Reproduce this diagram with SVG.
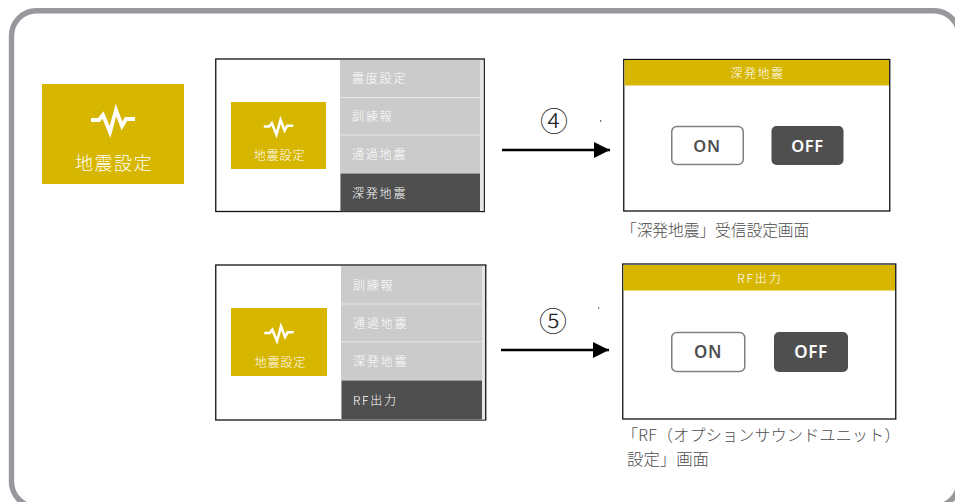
<svg xmlns="http://www.w3.org/2000/svg" width="955" height="502" viewBox="0 0 955 502">
<defs>
<marker id="arr" markerUnits="userSpaceOnUse" markerWidth="17" markerHeight="16" refX="16" refY="8" orient="auto"><path d="M0 0L16 8L0 16Z" fill="#000"/></marker>
<polyline id="wave" points="-22,0 -14,0 -10,-5 -3,12 3,-10 9,6 13,-1 22,-1" fill="none" stroke="#fff" stroke-width="3.800" stroke-miterlimit="12"/>
</defs>
<style>
text{font-family:"Noto Sans CJK JP","Noto Sans",sans-serif}
.w{fill:#fff;font-weight:300}
.c{text-anchor:middle}
.gold{fill:#d7b600}
.menu{fill:#cbcbcb}
.dark{fill:#4f4f4f}
.frame{fill:#fff;stroke:#111;stroke-width:1.300}
.strip{fill:#e6e6e6}
.m{font-size:12px;letter-spacing:1.800px}
.cap{fill:#4d4d4d;font-weight:300}
.on{fill:#fff;stroke:#807f7f;stroke-width:1.500}
.b{font-family:"Noto Sans",sans-serif;font-weight:600;letter-spacing:.6px;text-anchor:middle}
.num{font-size:28px;font-weight:300;fill:#222;text-anchor:middle}
</style>
<rect width="955" height="502" fill="#fff"/>
<rect x="11.500" y="10.800" width="947.500" height="496" rx="25" fill="#fff" stroke="#97979c" stroke-width="5.400"/>

<g id="icon-large">
<rect class="gold" x="42" y="84" width="142" height="100"/>
<use href="#wave" x="113" y="120"/>
<text class="w c" x="114" y="170" font-size="18" letter-spacing="1.500">地震設定</text>
</g>

<g id="menu-1">
<rect class="frame" x="215.750" y="59" width="268.500" height="152.500"/>
<rect class="strip" x="340" y="60" width="143.500" height="151"/>
<rect class="menu" x="340" y="60" width="140" height="37"/>
<rect class="menu" x="340" y="98" width="140" height="36.500"/>
<rect class="menu" x="340" y="135.500" width="140" height="37.500"/>
<rect class="dark" x="340.500" y="173.500" width="139.500" height="38"/>
<text class="w m" x="352" y="83">震度設定</text>
<text class="w m" x="352" y="121">訓練報</text>
<text class="w m" x="352" y="159">通過地震</text>
<text class="w m" x="352" y="198">深発地震</text>
<rect class="gold" x="231" y="102" width="95" height="67"/>
<use href="#wave" transform="translate(278.500 126.500) scale(.67)"/>
<text class="w c" x="279.500" y="160" font-size="12" letter-spacing=".9">地震設定</text>
</g>

<g id="screen-deep">
<rect class="frame" x="623.750" y="59.500" width="266" height="151.500"/>
<rect class="gold" x="624.500" y="60" width="264.500" height="25.500"/>
<text class="w c" x="757.500" y="78" font-size="12" letter-spacing="1.600">深発地震</text>
<rect class="on" x="671.750" y="126.500" width="71.500" height="38" rx="5"/>
<text class="b" x="707" y="151.500" font-size="16.500" fill="#4f4f4f">ON</text>
<rect class="dark" x="771.500" y="126" width="72" height="39" rx="5"/>
<text class="b" x="807.500" y="151.500" font-size="16.500" fill="#fff">OFF</text>
<text class="cap" x="621" y="236" font-size="15.700">「深発地震」受信設定画面</text>
</g>

<g id="menu-2">
<rect class="frame" x="215.750" y="265" width="270" height="155"/>
<rect class="strip" x="341" y="266" width="144" height="153.500"/>
<rect class="menu" x="341" y="266" width="141" height="37.500"/>
<rect class="menu" x="341" y="304.500" width="141" height="36.800"/>
<rect class="menu" x="341" y="342.300" width="141" height="37.700"/>
<rect class="dark" x="341.500" y="380.500" width="140.500" height="39"/>
<text class="w m" x="353" y="290">訓練報</text>
<text class="w m" x="353" y="328">通過地震</text>
<text class="w m" x="353" y="366">深発地震</text>
<text class="w m" x="353" y="405">RF出力</text>
<rect class="gold" x="231" y="308" width="96" height="68"/>
<use href="#wave" transform="translate(279 333) scale(.67)"/>
<text class="w c" x="280.500" y="367" font-size="12" letter-spacing=".9">地震設定</text>
</g>

<g id="screen-rf">
<rect class="frame" x="622.750" y="264" width="273" height="155"/>
<rect class="gold" x="623.500" y="265" width="271.500" height="25.500"/>
<text class="w c" x="760" y="283" font-size="12" letter-spacing="2">RF出力</text>
<rect class="on" x="671.750" y="332.500" width="73" height="39" rx="5"/>
<text class="b" x="708" y="357.500" font-size="17" fill="#4f4f4f">ON</text>
<rect class="dark" x="774" y="332" width="74" height="40" rx="5"/>
<text class="b" x="811" y="357.500" font-size="17" fill="#fff">OFF</text>
<text class="cap" x="622" y="441" font-size="16" letter-spacing=".25">「RF（オプションサウンドユニット）</text>
<text class="cap" x="627" y="465" font-size="16.400">設定」画面</text>
</g>

<g id="connectors">
<line x1="502" y1="150" x2="610" y2="150" stroke="#000" stroke-width="2.500" marker-end="url(#arr)"/>
<line x1="501" y1="350" x2="609" y2="350" stroke="#000" stroke-width="2.500" marker-end="url(#arr)"/>
</g>
<text class="num" x="554" y="132">④</text>
<text class="num" x="553" y="332">⑤</text>
<rect x="600" y="120" width="1.200" height="2" fill="#777"/>
<rect x="598" y="307" width="1.200" height="2" fill="#777"/>
</svg>
